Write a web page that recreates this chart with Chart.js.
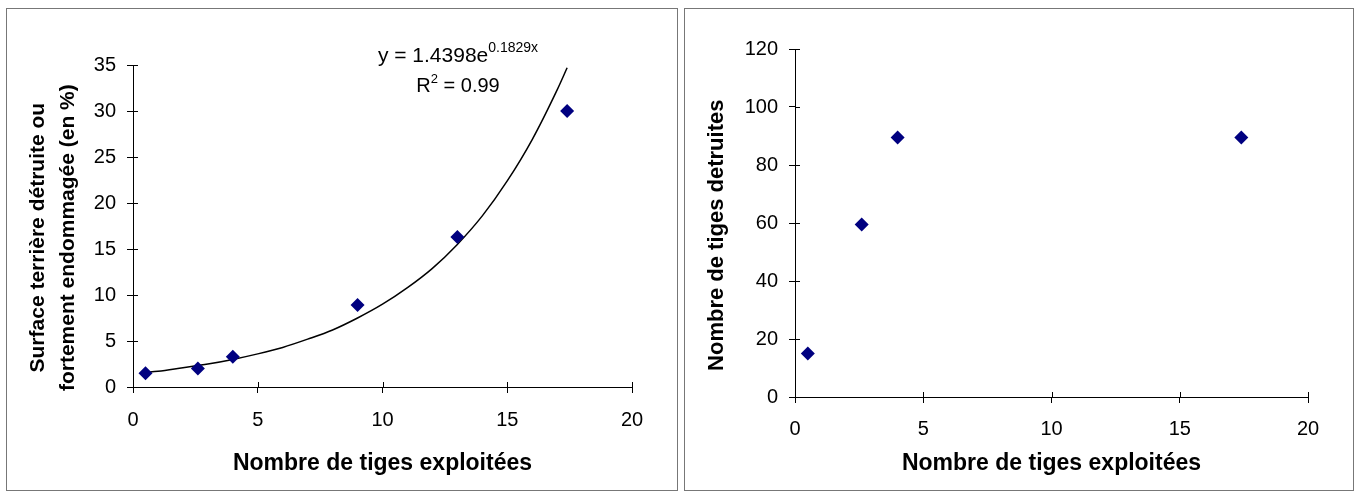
<!DOCTYPE html>
<html>
<head>
<meta charset="utf-8">
<script src="https://cdn.jsdelivr.net/npm/chart.js@4/dist/chart.umd.min.js"></script>
<style>
  body { margin: 0; background: #fff; }
  .box { position: absolute; border: 1px solid #777; background: #fff; }
  #boxLeft { left: 6px; top: 8px; width: 670px; height: 481px; }
  #boxRight { left: 684px; top: 8px; width: 668px; height: 481px; }
  canvas { display: block; }
</style>
</head>
<body>
<div class="box" id="boxLeft"><canvas id="surfaceChart" width="670" height="481"></canvas></div>
<div class="box" id="boxRight"><canvas id="tigesChart" width="668" height="481"></canvas></div>
<script>
// valeurs
const exploitees = [0.5, 2.6, 4.0, 9.0, 13.0, 17.4];
const surface = [1.5, 2.0, 3.3, 8.9, 16.3, 30.0];

const trendX = [0.5, 1, 2, 3, 4, 5, 6, 7, 8, 9, 10, 11, 12, 13, 14, 15, 16, 17, 17.4];
const trendY = [1.6, 1.7, 2.1, 2.5, 3.0, 3.6, 4.3, 5.2, 6.2, 7.5, 9.0, 10.8, 12.9, 15.5, 18.6, 22.4, 26.9, 32.3, 34.7];

const exploitees2 = [0.5, 2.6, 4.0, 17.4];
const detruites = [15, 59.5, 89.5, 89.5];

const xTitle = 'Nombre de tiges exploitées';
const yTitleLeft = ['Surface terrière détruite ou', 'fortement endommagée (en %)'];
const yTitleRight = 'Nombre de tiges detruites';

const FONT = "'Liberation Sans', Arial, sans-serif";
const NAVY = '#000080';

const toXY = (xs, ys) => xs.map((x, i) => ({ x: x, y: ys[i] }));
// le titre vertical est un peu plus bas que le centre de l'axe dans l'original
const shiftDown = t => Array.isArray(t) ? t.map(shiftDown) : t + '    ';

// petits traits à l'intérieur des axes (graduations croisées)
const crossTicks = {
    id: 'crossTicks',
    afterDraw(chart) {
        const { ctx, chartArea, scales } = chart;
        ctx.save();
        ctx.strokeStyle = '#000';
        ctx.lineWidth = 1;
        ctx.beginPath();
        scales.x.ticks.forEach(t => {
            const px = Math.round(scales.x.getPixelForValue(t.value)) + 0.5;
            ctx.moveTo(px, chartArea.bottom);
            ctx.lineTo(px, chartArea.bottom - 5);
        });
        scales.y.ticks.forEach(t => {
            const py = Math.round(scales.y.getPixelForValue(t.value)) + 0.5;
            ctx.moveTo(chartArea.left, py);
            ctx.lineTo(chartArea.left + 5, py);
        });
        ctx.stroke();
        ctx.restore();
    }
};

// équation de la tendance
const equation = {
    id: 'equation',
    afterDraw(chart) {
        const ctx = chart.ctx;
        const cx = 451;
        ctx.save();
        ctx.fillStyle = '#000';
        ctx.textBaseline = 'alphabetic';
        ctx.textAlign = 'left';
        const big = '21px ' + FONT, small = '14px ' + FONT;

        ctx.font = big;
        const a = 'y = 1.4398e';
        const wa = ctx.measureText(a).width;
        ctx.font = small;
        const b = '0.1829x';
        const wb = ctx.measureText(b).width;
        let x0 = cx - (wa + wb) / 2;
        ctx.font = big;
        ctx.fillText(a, x0, 53);
        ctx.font = small;
        ctx.fillText(b, x0 + wa, 43);

        ctx.font = '20px ' + FONT;
        const r = 'R', rest = ' = 0.99';
        const wr = ctx.measureText(r).width, wrest = ctx.measureText(rest).width;
        ctx.font = '13px ' + FONT;
        const w2 = ctx.measureText('2').width;
        x0 = cx - (wr + w2 + wrest) / 2;
        ctx.font = '20px ' + FONT;
        ctx.fillText(r, x0, 83);
        ctx.fillText(rest, x0 + wr + w2, 83);
        ctx.font = '13px ' + FONT;
        ctx.fillText('2', x0 + wr, 74);
        ctx.restore();
    }
};

function axisX(tickPad) {
    return {
        type: 'linear', min: 0, max: 20,
        ticks: { stepSize: 5, color: '#000', padding: tickPad, font: { family: FONT, size: 20 } },
        grid: { display: true, drawOnChartArea: false, drawTicks: true, tickLength: 6, color: '#000' },
        border: { display: true, color: '#000' },
        title: { display: true, text: xTitle, color: '#000', padding: { top: 4, bottom: 13 },
                 font: { family: FONT, size: 23, weight: 'bold' } }
    };
}

function axisY(max, step, title, size, titlePad, lineHeight) {
    return {
        type: 'linear', min: 0, max: max,
        ticks: { stepSize: step, color: '#000', padding: 11, font: { family: FONT, size: 20 } },
        grid: { display: true, drawOnChartArea: false, drawTicks: true, tickLength: 6, color: '#000' },
        border: { display: true, color: '#000' },
        title: { display: true, text: shiftDown(title), color: '#000', padding: { top: titlePad, bottom: 0 },
                 font: { family: FONT, size: size, weight: 'bold', lineHeight: lineHeight } }
    };
}

const common = {
    responsive: false,
    animation: false,
    devicePixelRatio: 1,
    plugins: { legend: { display: false }, tooltip: { enabled: false } }
};

// graphique de gauche
const xLeft = axisX(15);
xLeft.afterFit = s => { s.height = 103; };
const yLeft = axisY(35, 5, yTitleLeft, 21, 16, 1.45);
yLeft.afterFit = s => { s.width = 126; };

new Chart(document.getElementById('surfaceChart'), {
    type: 'scatter',
    data: {
        datasets: [
            {
                data: toXY(exploitees, surface),
                pointStyle: 'rectRot', pointRadius: 7,
                backgroundColor: NAVY, borderColor: NAVY, borderWidth: 0
            },
            {
                data: toXY(trendX, trendY),
                showLine: true, pointRadius: 0, borderColor: '#000', borderWidth: 1.5,
                cubicInterpolationMode: 'monotone', fill: false
            }
        ]
    },
    options: Object.assign({}, common, {
        layout: { padding: { top: 56, right: 45, left: 0, bottom: 0 } },
        scales: { x: xLeft, y: yLeft }
    }),
    plugins: [crossTicks, equation]
});

// graphique de droite
const xRight = axisX(14);
xRight.afterFit = s => { s.height = 93; };
const yRight = axisY(120, 20, yTitleRight, 22, 19, 1.2);
yRight.afterFit = s => { s.width = 110; };

new Chart(document.getElementById('tigesChart'), {
    type: 'scatter',
    data: {
        datasets: [{
            data: toXY(exploitees2, detruites),
            pointStyle: 'rectRot', pointRadius: 7,
            backgroundColor: NAVY, borderColor: NAVY, borderWidth: 0
        }]
    },
    options: Object.assign({}, common, {
        layout: { padding: { top: 40, right: 45, left: 0, bottom: 0 } },
        scales: { x: xRight, y: yRight }
    }),
    plugins: [crossTicks]
});
</script>
</body>
</html>
